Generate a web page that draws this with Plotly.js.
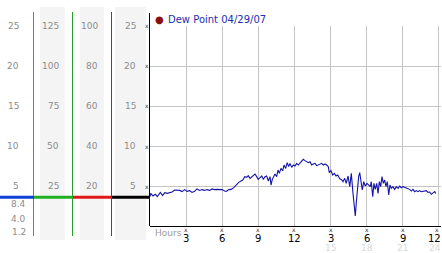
<!DOCTYPE html>
<html>
<head>
<meta charset="utf-8">
<script src="https://cdn.plot.ly/plotly-3.0.1.min.js"></script>
<style>html,body{margin:0;padding:0;background:#fff;}#chart{width:442px;height:253px;}</style>
</head>
<body>
<div id="chart"></div>
<script>
// ---- data ----
const hours = [0,0.06,0.25,0.44,0.61,0.86,1.05,1.22,1.44,1.64,1.83,2.05,2.24,2.47,2.66,2.88,3.07,3.30,3.49,3.71,3.90,4.13,4.32,4.54,4.73,4.96,5.15,5.37,5.56,5.79,5.98,6.20,6.34,6.54,6.75,6.98,7.17,7.37,
7.70,7.87,8.03,8.16,8.31,8.45,8.58,8.72,8.86,8.99,9.14,9.28,9.41,9.55,9.69,9.83,9.97,10.05,10.16,10.24,10.38,10.52,10.63,10.74,10.88,11.02,11.13,11.27,11.40,11.52,11.63,11.77,11.90,12.04,12.18,12.32,12.46,12.60,12.73,12.87,13.01,13.15,13.29,13.43,13.56,13.70,13.85,13.98,14.12,14.26,14.39,14.53,14.68,14.81,14.89,15.03,15.17,15.31,15.45,15.59,
15.76,15.89,16.03,16.17,16.30,16.45,16.59,16.72,16.86,17.00,17.05,17.13,17.22,17.33,17.42,17.55,17.63,17.75,17.88,18.02,18.16,18.30,18.38,18.50,18.60,18.71,18.83,18.94,19.05,19.16,19.27,19.38,19.49,19.60,19.71,19.83,19.93,20.04,20.18,20.32,20.46,20.60,20.74,20.87,21.01,21.15,21.29,21.43,21.57,21.70,21.84,21.98,22.12,22.26,22.40,22.53,22.67,22.82,22.95,23.09,23.23,23.36,23.50,23.65,23.73];
const dewPoint = [3.67,4.08,3.75,3.96,3.67,4.2,3.8,4.17,4.08,4.2,4.25,4.5,4.45,4.45,4.3,4.55,4.33,4.42,4.2,4.33,4.63,4.45,4.55,4.45,4.55,4.45,4.63,4.55,4.58,4.55,4.55,4.37,4.33,4.55,4.58,4.83,5.12,5.46,
5.75,6.17,6.08,6.29,5.96,6.17,6.29,6.5,6.17,5.83,6.04,6.25,5.83,6.17,6.25,5.62,6.17,5.12,5.83,6.17,6.5,6.17,7.0,6.58,7.2,6.9,7.62,7.2,7.92,7.42,7.83,7.33,7.62,7.5,7.83,7.62,7.83,8.04,8.33,8.17,8.04,7.92,8.04,7.62,7.75,7.83,7.54,7.62,7.75,7.83,7.62,7.75,7.62,7.42,6.67,6.92,6.37,6.58,6.25,6.37,
5.9,5.83,5.54,5.96,5.33,6.25,4.92,6.58,4.08,2.42,1.25,2.83,4.71,6.17,6.67,5.33,4.5,5.54,5.0,5.33,5.12,4.92,5.54,3.67,5.33,4.58,5.33,4.08,5.54,4.92,6.17,5.33,5.75,4.92,5.54,3.87,5.12,4.71,4.92,4.58,4.92,4.71,5.0,4.79,4.92,4.83,4.83,4.71,4.58,4.37,4.58,4.29,4.42,4.29,4.42,4.29,4.33,4.29,4.42,4.2,4.25,3.96,4.17,4.29,4.08];
const seriesName = 'Dew Point 04/29/07';
const currentReading = 3.6;
const scaleA = [25,20,15,10,5];
const scaleB = [125,100,75,50,25];
const scaleC = [100,80,60,40,20];
const scaleD = [25,20,15,10,5];
const extraReadings = ['8.4','4.0','1.2'];
const xTickVals = [3,6,9,12,15,18,21,24];
const xTickText = ['3','6','9','12','3','6','9','12'];
const pmVals = [15,18,21,24];
const pmText = ['15','18','21','24'];

// ---- layout helpers ----
const W = 442, H = 253;
const px = v => v / W;
const py = v => 1 - v / H;
const FONT = 'DejaVu Sans, Verdana, sans-serif';
const labelColor = '#8c8c8c';

const shapes = [];
[[40,65],[80,104],[115,146]].forEach(b => shapes.push({type:'rect', xref:'paper', yref:'paper', x0:px(b[0]), x1:px(b[1]), y0:py(240), y1:py(7), fillcolor:'#f4f4f4', line:{width:0}, layer:'below'}));
[[33.5,'#2a90d0'],[72.5,'#2a9a2a'],[111.5,'#b82020']].forEach(v => shapes.push({type:'line', xref:'paper', yref:'paper', x0:px(v[0]), x1:px(v[0]), y0:py(236), y1:py(12), line:{color:v[1], width:1}}));
[[0,34,'#1040d8'],[34,73,'#22b022'],[73,112,'#e01818'],[112,150,'#000000']].forEach(s => shapes.push({type:'line', xref:'paper', yref:'y', x0:px(s[0]), x1:px(s[1]), y0:currentReading, y1:currentReading, line:{color:s[2], width:3}}));
shapes.push({type:'line', xref:'paper', yref:'paper', x0:px(149.5), x1:px(149.5), y0:py(226), y1:py(13), line:{color:'#000', width:1}});

const annotations = [];
function lab(text, xr, yval, yref, color, size, anchor) {
  annotations.push({text:text, xref:'paper', x:px(xr), yref:yref, y:yval, xanchor:anchor||'right', yanchor:'middle', showarrow:false, font:{family:FONT, size:size||9, color:color||labelColor}});
}
scaleA.forEach((t,i) => lab(String(t), 20.5, scaleD[i], 'y'));
scaleB.forEach((t,i) => lab(String(t), 60.5, scaleD[i], 'y'));
scaleC.forEach((t,i) => lab(String(t), 99.5, scaleD[i], 'y'));
scaleD.forEach((t,i) => lab(String(t), 137.5, scaleD[i], 'y'));
extraReadings.forEach((t,i) => lab(t, 27.5, py([204,219,232][i]), 'paper'));
scaleD.forEach(v => annotations.push({text:'x', xref:'paper', x:px(147), yref:'y', y:v, xanchor:'center', yanchor:'middle', showarrow:false, font:{family:FONT, size:6, color:'#333'}}));
const last = xTickVals.length - 1;
xTickVals.forEach((v,i) => {
  annotations.push({text:'x', xref:'x', x:v, yref:'paper', y:py(229.5), xanchor:'center', yanchor:'middle', showarrow:false, xshift:(i===last?-2:0), font:{family:FONT, size:6, color:'#333'}});
  annotations.push({text:xTickText[i], xref:'x', x:v, yref:'paper', y:py(238), xanchor:(i===last?'right':'center'), yanchor:'middle', showarrow:false, xshift:(i===last?4:0), font:{family:FONT, size:10, color:'#000'}});
});
pmVals.forEach((v,i) => annotations.push({text:pmText[i], xref:'x', x:v, yref:'paper', y:py(248), xanchor:(i===pmVals.length-1?'right':'center'), xshift:(i===pmVals.length-1?4:0), yanchor:'middle', showarrow:false, font:{family:FONT, size:9, color:'#d8d8d8'}}));
annotations.push({text:'Hours', xref:'paper', x:px(152.5), yref:'paper', y:py(232.5), xanchor:'left', yanchor:'middle', showarrow:false, font:{family:FONT, size:9, color:'#999'}});
annotations.push({text:'●', xref:'paper', x:px(159.5), yref:'paper', y:py(20), xanchor:'center', yanchor:'middle', showarrow:false, font:{family:FONT, size:10, color:'#8a1010'}});
annotations.push({text:seriesName, xref:'paper', x:px(165.5), yref:'paper', y:py(20), xanchor:'left', yanchor:'middle', showarrow:false, font:{family:FONT, size:10, color:'#2030b0'}});

const trace = {x:hours, y:dewPoint, type:'scatter', mode:'lines', line:{color:'#1414a8', width:1.1}, hoverinfo:'skip'};

const layout = {
  width:W, height:H, margin:{l:0,r:0,t:0,b:0}, paper_bgcolor:'#fff', plot_bgcolor:'#fff', showlegend:false,
  xaxis:{domain:[px(150), px(441)], range:[0,24.17], tickvals:xTickVals, showticklabels:false, showgrid:true, gridcolor:'#c4c4c4', gridwidth:1, zeroline:false, showline:true, linecolor:'#000', linewidth:1, ticks:'', fixedrange:true},
  yaxis:{domain:[py(226), py(26)], range:[0,25], tickvals:scaleD, showticklabels:false, showgrid:true, gridcolor:'#c4c4c4', gridwidth:1, zeroline:false, showline:false, ticks:'', fixedrange:true},
  shapes:shapes, annotations:annotations
};
Plotly.newPlot('chart', [trace], layout, {staticPlot:true, displayModeBar:false});
</script>
</body>
</html>
